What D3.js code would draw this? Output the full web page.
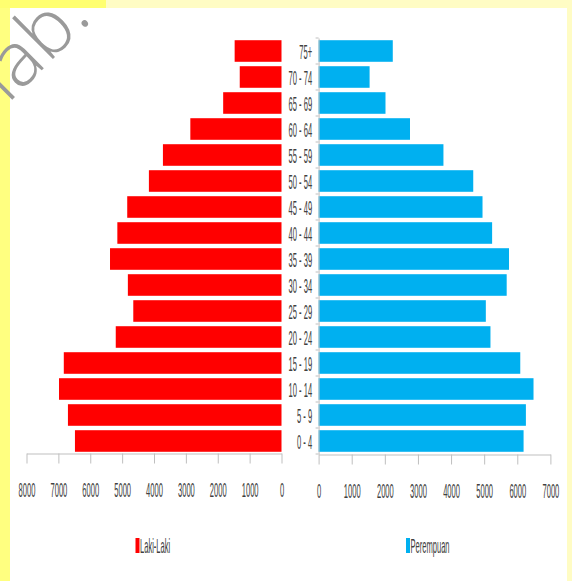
<!DOCTYPE html>
<html>
<head>
<meta charset="utf-8">
<script src="https://cdn.jsdelivr.net/npm/d3@7"></script>
<style>
  body { margin: 0; background: #fff; }
  svg { display: block; }
  .axis path, .axis line { stroke: #bfbfbf; }
  .axis text, .label { fill: #404040; font-family: "Liberation Sans", sans-serif; font-size: 21px; }
</style>
</head>
<body>
<svg width="572" height="581"></svg>
<script>
// age groups, top of pyramid first
var ageGroups = ["75+", "70 - 74", "65 - 69", "60 - 64", "55 - 59", "50 - 54", "45 - 49", "40 - 44",
                 "35 - 39", "30 - 34", "25 - 29", "20 - 24", "15 - 19", "10 - 14", "5 - 9", "0 - 4"];
var maleValues = [1470, 1310, 1830, 2860, 3720, 4160, 4840, 5150,
                  5380, 4820, 4650, 5200, 6830, 6980, 6700, 6480];
var femaleValues = [2240, 1540, 2020, 2760, 3770, 4670, 4950, 5240,
                    5750, 5680, 5050, 5190, 6090, 6490, 6260, 6190];
var maleTicks = [8000, 7000, 6000, 5000, 4000, 3000, 2000, 1000, 0];
var femaleTicks = [0, 1000, 2000, 3000, 4000, 5000, 6000, 7000];
var seriesNames = ["Laki-Laki", "Perempuan"];
var seriesColors = ["#ff0000", "#00b0f0"];

var svg = d3.select("svg"),
    sx = 0.36; // labels in the picture are squeezed sideways

// page frame: yellow border round a white sheet
svg.append("rect").attr("width", 572).attr("height", 581).attr("fill", "#fffcc4");
svg.append("rect").attr("width", 11).attr("height", 581).attr("fill", "#ffff80");
svg.append("rect").attr("width", 106).attr("height", 8).attr("fill", "#ffff70");
svg.append("rect").attr("x", 10).attr("y", 8).attr("width", 557).attr("height", 573).attr("fill", "#fff");
svg.append("text")
    .attr("transform", "translate(93,19) rotate(-45)")
    .attr("text-anchor", "end")
    .attr("font-family", "Open Sans, sans-serif")
    .attr("font-weight", 300)
    .attr("font-size", 76)
    .attr("fill", "#9a9a9a")
    .text("lab.");

var xL = d3.scaleLinear().domain([0, 8000]).range([281.5, 26.5]);
var xR = d3.scaleLinear().domain([0, 7000]).range([318.6, 550.4]);
var y = d3.scaleBand().domain(ageGroups).range([38, 454]).paddingInner(0.17).paddingOuter(0.085);

// bars
svg.append("g").selectAll("rect")
    .data(maleValues)
  .enter().append("rect")
    .attr("x", function(d) { return xL(d); })
    .attr("y", function(d, i) { return y(ageGroups[i]); })
    .attr("width", function(d) { return xL(0) - xL(d); })
    .attr("height", y.bandwidth())
    .attr("fill", seriesColors[0]);

svg.append("g").selectAll("rect")
    .data(femaleValues)
  .enter().append("rect")
    .attr("x", xR(0))
    .attr("y", function(d, i) { return y(ageGroups[i]); })
    .attr("width", function(d) { return xR(d) - xR(0); })
    .attr("height", y.bandwidth())
    .attr("fill", seriesColors[1]);

// x axes
svg.append("g")
    .attr("class", "axis")
    .attr("transform", "translate(0,453.5)")
    .call(d3.axisBottom(xL).tickValues(maleTicks).tickSize(10).tickSizeOuter(0).tickFormat(d3.format("d")));
svg.append("g")
    .attr("class", "axis")
    .attr("transform", "translate(0,454.5)")
    .call(d3.axisBottom(xR).tickValues(femaleTicks).tickSize(10).tickSizeOuter(0).tickFormat(d3.format("d")));
svg.selectAll(".axis text")
    .attr("y", 0)
    .attr("dy", 0)
    .attr("transform", "translate(0,43) scale(" + sx + ",1)");

// category axis along the left side of the blue bars
var axY = svg.append("g")
    .attr("class", "axis")
    .attr("transform", "translate(318.6,0)")
    .call(d3.axisLeft(y).tickSize(0).tickSizeOuter(0));
axY.selectAll("text")
    .attr("x", 0)
    .attr("dy", "0.38em")
    .attr("transform", "translate(-6.5,0) scale(" + sx + ",1)");
axY.selectAll(".sep")
    .data(d3.range(ageGroups.length + 1))
  .enter().append("line")
    .attr("class", "sep")
    .attr("x1", -3).attr("x2", 0)
    .attr("y1", function(i) { return y.range()[0] + i * y.step(); })
    .attr("y2", function(i) { return y.range()[0] + i * y.step(); })
    .attr("stroke", "#bfbfbf");
axY.select(".domain").raise();

// legend
var legendX = [135.5, 406];
seriesNames.forEach(function(name, i) {
  var lg = svg.append("g").attr("transform", "translate(" + legendX[i] + ",538)");
  lg.append("rect").attr("width", 4).attr("height", 15).attr("fill", seriesColors[i]);
  lg.append("text")
      .attr("class", "label")
      .attr("transform", "translate(4.5,14.5) scale(" + sx + ",1)")
      .text(name);
});
</script>
</body>
</html>
